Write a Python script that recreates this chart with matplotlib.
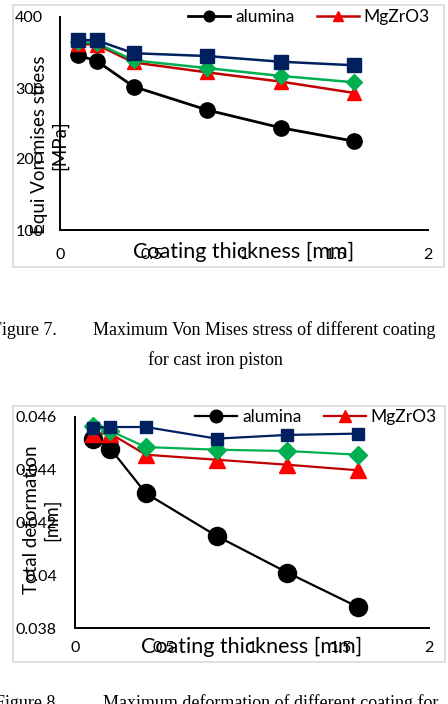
import matplotlib.pyplot as plt
from matplotlib.patches import Rectangle

# coating thickness [mm]
thickness = [0.1, 0.2, 0.4, 0.8, 1.2, 1.6]

# Figure 7: equivalent Von Mises stress [MPa]
stress_alumina = [346, 338, 302, 269, 244, 225]
stress_mgzro3 = [362, 361, 336, 322, 309, 293]
stress_green = [365, 363, 339, 328, 317, 308]
stress_blue = [368, 367, 349, 345, 337, 332]

# Figure 8: total deformation [mm]
defo_alumina = [0.04518, 0.04480, 0.04311, 0.04149, 0.04010, 0.03879]
defo_mgzro3 = [0.04537, 0.04537, 0.04457, 0.04438, 0.04419, 0.04398]
defo_green = [0.04565, 0.04547, 0.04486, 0.04476, 0.04471, 0.04457]
defo_blue = [0.04560, 0.04562, 0.04562, 0.04518, 0.04532, 0.04537]

x_ticks = [0, 0.5, 1, 1.5, 2]
x_ticklabels = ["0", "0.5", "1", "1.5", "2"]
stress_ticks = [100, 200, 300, 400]
defo_ticks = [0.038, 0.04, 0.042, 0.044, 0.046]
defo_ticklabels = ["0.038", "0.04", "0.042", "0.044", "0.046"]

W, H = 448, 704
fig = plt.figure(figsize=(W / 100, H / 100), dpi=100)
sans = "Lato"
serif = "Liberation Serif"


def px_axes(left, top, right, bottom):
    # axes placed by pixel box (top-left origin)
    return fig.add_axes([left / W, (H - bottom) / H, (right - left) / W, (bottom - top) / H])


def border(left, top, right, bottom):
    fig.patches.append(Rectangle((left / W, (H - bottom) / H), (right - left) / W, (bottom - top) / H,
                                 transform=fig.transFigure, fill=False, edgecolor="#d9d9d9", linewidth=1.2))


def style(ax, ylim, yticks, yticklabels, xpad, ypad):
    ax.set_xlim(0, 2)
    ax.set_ylim(*ylim)
    ax.set_xticks(x_ticks)
    ax.set_xticklabels(x_ticklabels, fontfamily=sans, fontsize=11.5)
    ax.set_yticks(yticks)
    ax.set_yticklabels(yticklabels, fontfamily=sans, fontsize=11.5)
    ax.tick_params(axis="x", length=0, pad=xpad)
    ax.tick_params(axis="y", length=0, pad=ypad)
    for s in ["top", "right"]:
        ax.spines[s].set_visible(False)
    for s in ["left", "bottom"]:
        ax.spines[s].set_linewidth(1.4)
    ax.patch.set_alpha(0)


# ---------------- Figure 7 ----------------
border(13, 5, 444, 267)
ax1 = px_axes(60, 17, 428, 230)
style(ax1, (100, 400), stress_ticks, [str(t) for t in stress_ticks], 13, 12)
l1, = ax1.plot(thickness, stress_alumina, color="black", marker="o", markersize=11, linewidth=2, label="alumina", zorder=3)
l2, = ax1.plot(thickness, stress_mgzro3, color="#c00000", marker="^", markerfacecolor="#ff0000",
               markeredgecolor="#ff0000", markersize=10, linewidth=1.8, label="MgZrO3", zorder=4)
ax1.plot(thickness, stress_green, color="#00b050", marker="D", markersize=8, linewidth=1.8, zorder=5)
ax1.plot(thickness, stress_blue, color="#002060", marker="s", markersize=10, linewidth=1.8, zorder=6)
ax1.legend([l1, l2], ["alumina", "MgZrO3"], ncol=2, frameon=False, loc="center right",
           bbox_to_anchor=(430 / W, (H - 17) / H), bbox_transform=fig.transFigure,
           prop={"family": sans, "size": 12.5}, handlelength=2.4, handletextpad=0.3,
           columnspacing=1.3, borderpad=0, borderaxespad=0, numpoints=1, markerscale=0.7)
fig.text(244 / W, (H - 252) / H, "Coating thickness [mm]", fontfamily=sans, fontsize=15.5,
         ha="center", va="center")
fig.text(50 / W, (H - 145) / H, "Equi Von mises stress\n[MPa]", fontfamily=sans, fontsize=13.5,
         rotation=90, ha="center", va="center", linespacing=1.2, multialignment="center")

# caption 7
fig.text(-8 / W, (H - 335) / H, "Figure 7.", fontfamily=serif, fontsize=13, ha="left", va="baseline")
fig.text(93 / W, (H - 335) / H, "Maximum Von Mises stress of different coating", fontfamily=serif,
         fontsize=13, ha="left", va="baseline")
fig.text(148 / W, (H - 365) / H, "for cast iron piston", fontfamily=serif, fontsize=13,
         ha="left", va="baseline")

# ---------------- Figure 8 ----------------
border(13, 406, 445, 662)
ax2 = px_axes(75, 417, 429, 628)
style(ax2, (0.038, 0.046), defo_ticks, defo_ticklabels, 9, 13)
m1, = ax2.plot(thickness, defo_alumina, color="black", marker="o", markersize=13, linewidth=1.6, zorder=3)
m2, = ax2.plot(thickness, defo_mgzro3, color="#c00000", marker="^", markerfacecolor="#ff0000",
               markeredgecolor="#ff0000", markersize=12, linewidth=1.6, zorder=4)
ax2.plot(thickness, defo_green, color="#00b050", marker="D", markersize=9, linewidth=1.6, zorder=5)
ax2.plot(thickness, defo_blue, color="#002060", marker="s", markersize=8, linewidth=1.6, zorder=6)
ax2.legend([m1, m2], ["alumina", "MgZrO3"], ncol=2, frameon=False, loc="center right",
           bbox_to_anchor=(437 / W, (H - 417) / H), bbox_transform=fig.transFigure,
           prop={"family": sans, "size": 12.5}, handlelength=2.4, handletextpad=0.3,
           columnspacing=1.3, borderpad=0, borderaxespad=0, numpoints=1, markerscale=0.7)
fig.text(252 / W, (H - 647) / H, "Coating thickness [mm]", fontfamily=sans, fontsize=15.5,
         ha="center", va="center")
fig.text(42 / W, (H - 520) / H, "Total deformation\n[mm]", fontfamily=sans, fontsize=13.5,
         rotation=90, ha="center", va="center", linespacing=1.2, multialignment="center")

# caption 8 (cut by page edge)
fig.text(-5 / W, (H - 708) / H, "Figure 8", fontfamily=serif, fontsize=13, ha="left", va="baseline")
fig.text(103 / W, (H - 708) / H, "Maximum deformation of different coating for", fontfamily=serif,
         fontsize=13, ha="left", va="baseline")

fig.savefig("out.png", dpi=100)
